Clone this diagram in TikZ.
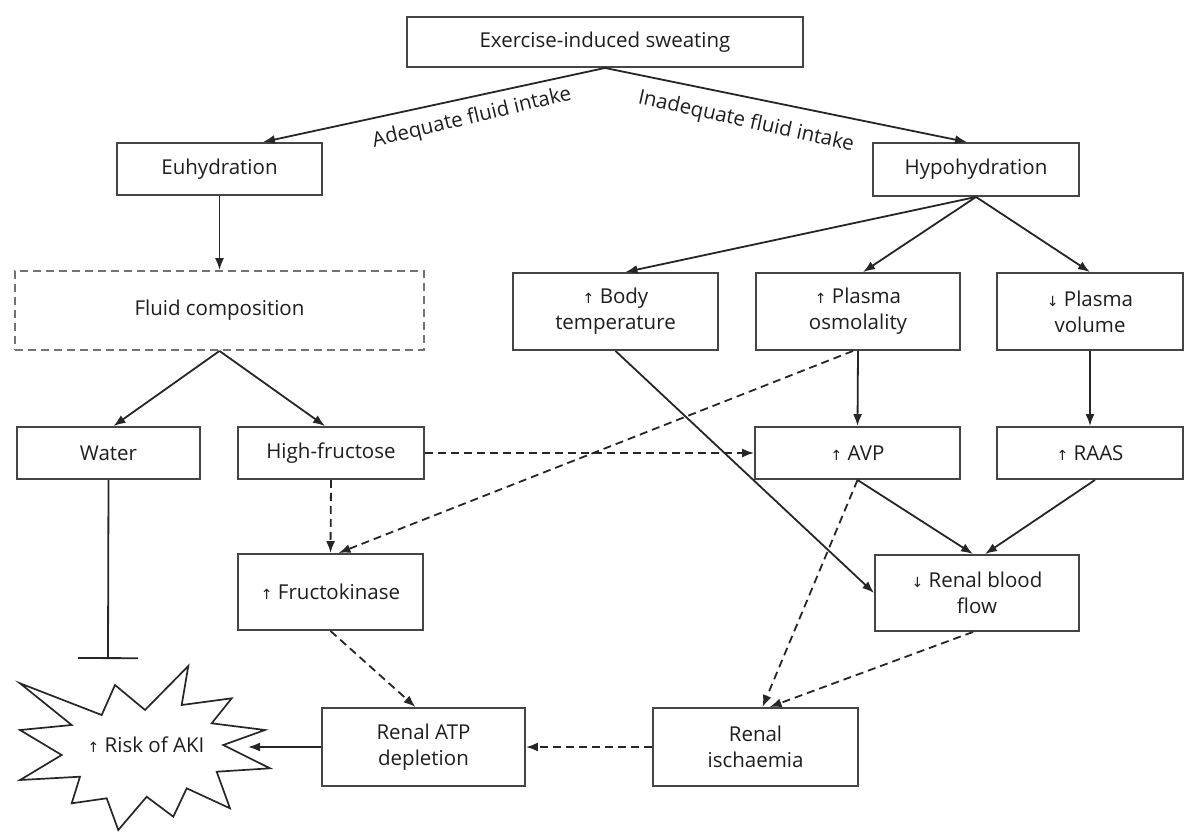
\documentclass[tikz,border=0pt]{standalone}
\usepackage{fontspec}
\setmainfont{Open Sans}
\newfontfamily\arrfont{DejaVu Sans}
\usetikzlibrary{arrows.meta,calc}
\newcommand{\myup}{{\arrfont\fontsize{14}{14}\selectfont ↑}}
\newcommand{\mydn}{{\arrfont\fontsize{14}{14}\selectfont ↓}}
\definecolor{linec}{HTML}{262626}
\definecolor{bordc}{HTML}{454545}
\definecolor{txtc}{HTML}{1E1E1E}
\begin{document}
\begin{tikzpicture}[x=1pt,y=-1pt,
  font=\fontsize{20.5}{26}\selectfont, text=txtc,
  box/.style={draw=bordc, line width=1.9pt, fill=white, align=center, inner sep=2pt},
  dbox/.style={box, draw=black!55, dash pattern=on 8pt off 5pt},
  conn/.style={draw=linec, line width=1.8pt, -{Latex[length=12pt,width=9pt]}},
  dconn/.style={conn, dash pattern=on 8pt off 5pt},
  lbl/.style={inner sep=0pt}]
\useasboundingbox (0,0) rectangle (1188,831);

% nodes
\node[box, minimum width=396pt, minimum height=50pt] (top) at (605,42) {Exercise-induced sweating};
\node[box, minimum width=205pt, minimum height=52pt] (eu) at (219.5,169) {Euhydration};
\node[box, minimum width=206pt, minimum height=53pt] (hypo) at (976,169.5) {Hypohydration};
\node[dbox, minimum width=409pt, minimum height=79pt] (fluid) at (219.5,310.5) {Fluid composition};
\node[box, minimum width=205pt, minimum height=77pt] (bt) at (615.5,311.5) {\myup\ Body\\temperature};
\node[box, minimum width=204pt, minimum height=77pt] (osmo) at (858,311.5) {\myup\ Plasma\\osmolality};
\node[box, minimum width=186pt, minimum height=77pt] (vol) at (1090,311.5) {\mydn\ Plasma\\volume};
\node[box, minimum width=183pt, minimum height=52pt] (water) at (108.5,453) {Water};
\node[box, minimum width=186pt, minimum height=52pt] (hf) at (331,453) {High-fructose};
\node[box, minimum width=205pt, minimum height=52pt] (avp) at (857.5,453) {\myup\ AVP};
\node[box, minimum width=186pt, minimum height=52pt] (raas) at (1090,453) {\myup\ RAAS};
\node[box, minimum width=185pt, minimum height=76pt] (fructo) at (330.5,592) {\myup\ Fructokinase};
\node[box, minimum width=204pt, minimum height=76pt] (rbf) at (977,593) {\mydn\ Renal blood\\flow};
\node[box, minimum width=203pt, minimum height=78pt] (atp) at (423.5,747) {Renal ATP\\depletion};
\node[box, minimum width=205pt, minimum height=78pt] (isch) at (755.5,747) {Renal\\ischaemia};

% star
\draw[draw=linec, line width=1.7pt, fill=white, line join=miter]
  (20,683.3) -- (101.7,715) -- (115,685) -- (145,710) -- (188.3,666) -- (181.7,705)
  -- (231.7,698.3) -- (211.7,723.3) -- (265,730) -- (223.3,745) -- (270,768.3)
  -- (216.7,771.7) -- (230,808.3) -- (186.7,788.3) -- (173.3,816.7) -- (146.7,796.7)
  -- (118.3,830) -- (106.7,798.3) -- (71.7,803.3) -- (80,776.7) -- (20,780)
  -- (61.7,755) -- (20,730) -- (71.7,725) -- cycle;
\node[inner sep=0pt] (aki) at (146,745) {\myup\ Risk of AKI};
\coordinate (akiin) at (248,747);
\coordinate (wend) at (108,659);

% labels
\node[lbl, rotate=13.5] (adeq) at (472,118) {Adequate fluid intake};
\node[lbl, rotate=-12.5] (inadeq) at (746,122) {Inadequate fluid intake};

% connectors
\draw[conn] (top.south) -- ([xshift=43.5pt]eu.north);
\draw[conn] (top.south) -- ([xshift=-9pt]hypo.north);
\draw[conn] (eu.south) -- (fluid.north);
\draw[conn] (fluid.south) -- ([xshift=5pt]water.north);
\draw[conn] (fluid.south) -- ([xshift=-6pt]hf.north);
\draw[conn] (hypo.south) -- ([xshift=10pt]bt.north);
\draw[conn] (hypo.south) -- ([xshift=5pt]osmo.north);
\draw[conn] (hypo.south) -- (vol.north);
\draw[conn] (bt.south) -- (rbf.west);
\draw[conn] (osmo.south) -- (avp.north);
\draw[conn] (vol.south) -- (raas.north);
\draw[dconn] ([xshift=-5pt]osmo.south) -- ([xshift=8pt]fructo.north);
\draw[dconn] (hf.south) -- (fructo.north);
\draw[dconn] (hf.east) -- (avp.west);
\draw[conn] (avp.south) -- ([xshift=-4pt]rbf.north);
\draw[conn] ([xshift=5pt]raas.south) -- ([xshift=8pt]rbf.north);
\draw[dconn] (avp.south) -- ([xshift=7pt]isch.north);
\draw[dconn] ([xshift=-4pt]rbf.south) -- ([xshift=14pt]isch.north);
\draw[dconn] (fructo.south) -- ([xshift=-8pt]atp.north);
\draw[dconn] (isch.west) -- (atp.east);
\draw[conn] (atp.west) -- (akiin);
\draw[draw=linec, line width=1.8pt, -{Bar[width=60pt,line width=1.8pt]}] (water.south) -- (wend);
\end{tikzpicture}
\end{document}
